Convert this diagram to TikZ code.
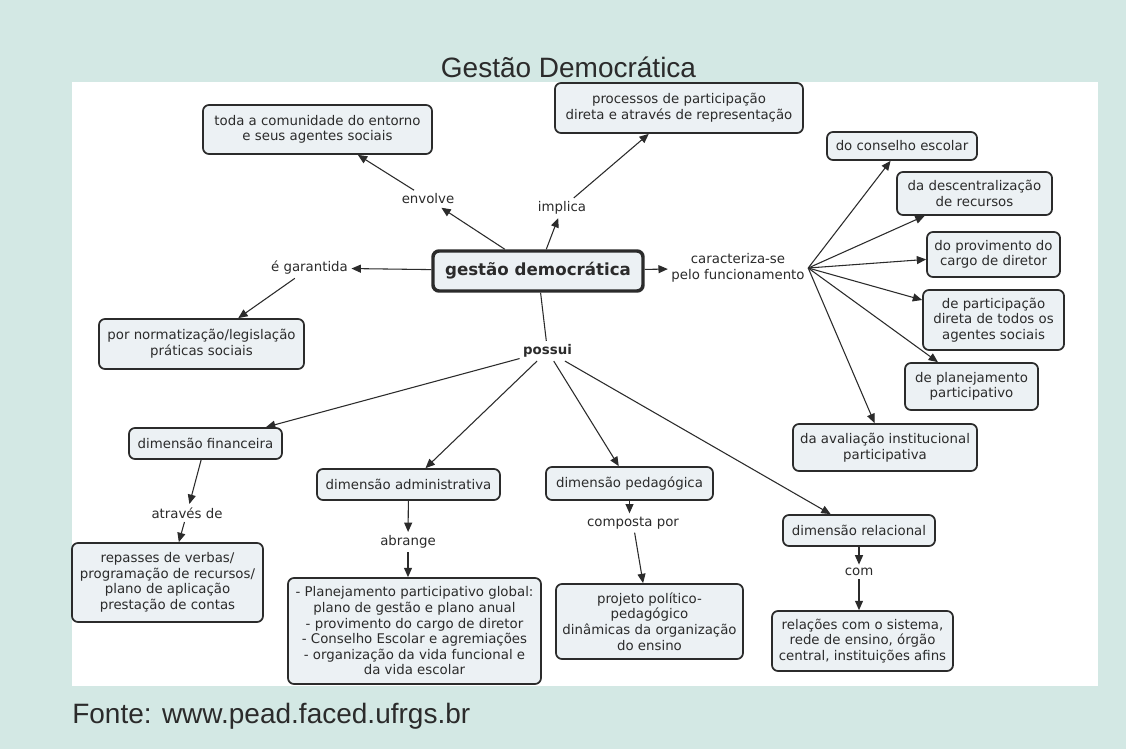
\documentclass[tikz,border=0pt]{standalone}
\usepackage{fontspec}
\setmainfont{DejaVu Sans}
\newfontfamily\arialf{Liberation Sans}
\usetikzlibrary{arrows.meta}
\definecolor{bgteal}{HTML}{D3E8E4}
\definecolor{boxfill}{HTML}{ECF1F4}
\definecolor{ink}{HTML}{2B2B2B}
\begin{document}
\begin{tikzpicture}[x=0.75pt,y=-0.75pt,
  concept/.style={draw=ink, fill=boxfill, rounded corners=4.5pt, line width=1.3pt, align=center,
    inner sep=0pt, font=\fontsize{10}{11.7}\selectfont, text=ink},
  sz/.style 2 args={minimum width=#1*0.75pt, minimum height=#2*0.75pt},
  link/.style={inner sep=2.5pt, align=center, font=\fontsize{10}{11.7}\selectfont, text=ink},
  conn/.style={draw=ink, line width=0.8pt, -{Triangle[length=7pt,width=6pt]}},
  plainconn/.style={draw=ink, line width=0.8pt}]
\useasboundingbox (0,0) rectangle (1126,749);
\fill[bgteal] (0,0) rectangle (1126,749);
\fill[white] (72,82) rectangle (1098,686);
\node[font=\arialf\fontsize{21}{24}\selectfont, text=ink, anchor=base, inner sep=0pt] (title) at (568.5,77) {Gestão Democrática};
\node[font=\arialf\fontsize{21}{24}\selectfont, text=ink, anchor=base west, inner sep=0pt] (src) at (72,723) {Fonte: www.pead.faced.ufrgs.br};

% concepts
\node[concept, sz={229}{49}] (comunidade) at (317.5,129.5) {toda a comunidade do entorno\\e seus agentes sociais};
\node[concept, sz={248}{50}] (processos) at (679,108) {processos de participação\\direta e através de representação};
\node[concept, line width=2.6pt, sz={210}{40}, font=\bfseries\fontsize{12.5}{14}\selectfont] (gd) at (538,271) {gestão democrática};
\node[concept, sz={205}{50}] (norm) at (201.5,344) {por normatização/legislação\\práticas sociais};
\node[concept, sz={150}{28}] (conselho) at (902,146) {do conselho escolar};
\node[concept, sz={155}{43}] (descent) at (974.5,193.5) {da descentralização\\de recursos};
\node[concept, sz={133}{45}] (provim) at (993.5,254.5) {do provimento do\\cargo de diretor};
\node[concept, sz={141}{60}] (partic) at (993.5,320) {de participação\\direta de todos os\\agentes sociais};
\node[concept, sz={133}{47}] (planej) at (971.5,386.5) {de planejamento\\participativo};
\node[concept, sz={184}{47}] (aval) at (885,447.5) {da avaliação institucional\\participativa};
\node[concept, sz={153}{31}] (fin) at (205.5,443.5) {dimensão financeira};
\node[concept, sz={191}{79}] (repasses) at (167.5,582.5) {repasses de verbas/\\programação de recursos/\\plano de aplicação\\prestação de contas};
\node[concept, sz={183}{31}] (adm) at (408.5,484.5) {dimensão administrativa};
\node[concept, sz={253}{106}] (admitens) at (414.5,631) {- Planejamento participativo global:\\plano de gestão e plano anual\\- provimento do cargo de diretor\\- Conselho Escolar e agremiações\\- organização da vida funcional e\\da vida escolar};
\node[concept, sz={167}{33}] (ped) at (629.5,483.5) {dimensão pedagógica};
\node[concept, sz={187}{75}] (projeto) at (649.5,621.5) {projeto político-\\pedagógico\\dinâmicas da organização\\do ensino};
\node[concept, sz={152}{31}] (rel) at (859,530.5) {dimensão relacional};
\node[concept, sz={181}{60}] (relacoes) at (862.5,641) {relações com o sistema,\\rede de ensino, órgão\\central, instituições afins};

% linking phrases
\node[link] (envolve) at (428,199) {envolve};
\node[link] (implica) at (562,208) {implica};
\node[link] (garantida) at (309.5,268) {é garantida};
\node[link] (caract) at (738,268) {caracteriza-se\\pelo funcionamento};
\node[link, font=\bfseries\fontsize{10}{11.7}\selectfont] (possui) at (547.5,351) {possui};
\node[link] (atraves) at (187,513) {através de};
\node[link] (abrange) at (408,542) {abrange};
\node[link] (composta) at (633,523) {composta por};
\node[link] (com) at (859,572) {com};

% connectors
\draw[conn] (gd) -- (envolve);
\draw[conn] (envolve) -- (comunidade);
\draw[conn] (gd) -- (implica);
\draw[conn] (implica) -- (processos);
\draw[conn] (gd) -- (garantida);
\draw[conn] (garantida) -- (norm);
\draw[conn] (gd) -- (caract);
\foreach \t in {conselho,descent,provim,partic,planej,aval}
  \draw[conn] (caract.east) -- (\t);
\draw[plainconn] (gd) -- (possui);
\draw[conn] (possui) -- (fin);
\draw[conn] (possui) -- (adm);
\draw[conn] (possui) -- (ped);
\draw[conn] (possui) -- (rel);
\draw[conn] (fin) -- (atraves);
\draw[conn] (atraves) -- (repasses);
\draw[conn] (adm) -- (abrange);
\draw[conn] (abrange) -- (abrange |- admitens.north);
\draw[conn] (ped.south) -- (ped.south |- composta.north);
\draw[conn] (composta) -- (projeto);
\draw[conn] (rel) -- (com);
\draw[conn] (com) -- (com |- relacoes.north);
\end{tikzpicture}
\end{document}
